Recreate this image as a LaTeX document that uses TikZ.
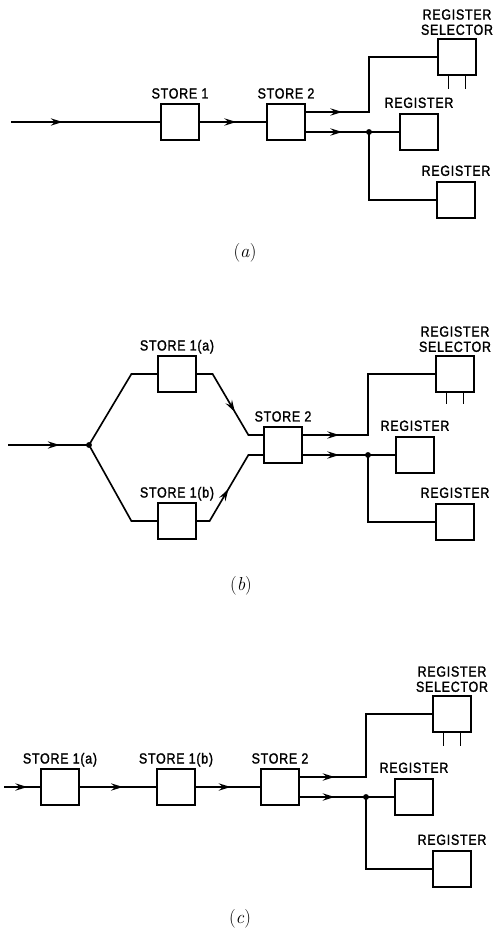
\documentclass[tikz,border=0pt]{standalone}
\usepackage{fontspec}
\newfontfamily\lblfont[FakeStretch=0.85,LetterSpace=5,FakeBold=1.5]{Liberation Sans}
\usetikzlibrary{positioning,calc,arrows.meta,decorations.markings}

\begin{document}
\begin{tikzpicture}[x=0.3mm, y=-0.3mm,
      box/.style={draw, line width=1.6pt, minimum width=1.12cm,
                  minimum height=1.1cm, inner sep=0pt},
      wire/.style={line width=1.4pt},
      flow/.style={wire, decoration={markings, mark=at position #1 with
                  {\arrow{Stealth[length=3.6mm,width=2.2mm,inset=1.3mm]}}},
                  postaction={decorate}},
      dot/.style={circle, fill, inner sep=0pt, minimum size=5pt},
      lbl/.style={font=\lblfont\fontsize{12.5}{13}\selectfont, inner sep=0pt,
                  text depth=0pt},
      sellbl/.style={lbl, align=center},
      figcap/.style={font=\fontsize{16}{18}\selectfont}]
    \useasboundingbox (0,0) rectangle (496,934);
    % (a) one store after another
    \coordinate (in1) at (11,122);
    \node[box] (s1) at (180,122) {};
    \node[box] (s2) at (286,122) {};
    \node[dot] (j1) at (369,132) {};
    \node[box] (r1) at (419,132) {};
    \node[box] (q1) at (456,200) {};
    \node[box] (sel1) at (457,57) {};
    \node[lbl, above=1.2mm of s1] {STORE 1};
    \node[lbl, above=1.2mm of s2] {STORE 2};
    \node[lbl, above=1.4mm of r1] {REGISTER};
    \node[lbl, above=1.4mm of q1] {REGISTER};
    \node[sellbl, above=0.8mm of sel1] {REGISTER\\SELECTOR};
    \draw[flow=1.55cm] (in1) -- (s1);
    \draw[flow=1.1cm] (s1) -- (s2);
    \draw[flow=1.1cm] ([yshift=3mm]s2.east) -| (j1 |- sel1) -- (sel1);
    \draw[flow=1.1cm] ([yshift=-3mm]s2.east) -- (j1.center) -- (r1);
    \draw[wire] (j1.center) |- (q1);
    \foreach \dx in {-2.6mm,2.6mm}
      \draw[wire] ([xshift=\dx]sel1.south) -- ++(0,13);
    \node[figcap] (c1) at (245,253) {(\textit{a})};
    % (b) two first stores side by side
    \coordinate (in2) at (8,445);
    \node[dot] (j2) at (89,445) {};
    \node[box] (s1a) at (177,374) {};
    \node[box] (s1b) at (177,521) {};
    \node[box] (s22) at (283,445) {};
    \node[dot] (k2) at (368,455) {};
    \node[box] (r2) at (415,455) {};
    \node[box] (q2) at (455,522) {};
    \node[box] (sel2) at (455,374) {};
    \node[lbl, above=1.2mm of s1a] {STORE 1(a)};
    \node[lbl, above=1.2mm of s1b] {STORE 1(b)};
    \node[lbl, above=1.2mm of s22] {STORE 2};
    \node[lbl, above=1.4mm of r2] {REGISTER};
    \node[lbl, above=1.4mm of q2] {REGISTER};
    \node[sellbl, above=0.8mm of sel2] {REGISTER\\SELECTOR};
    \draw[flow=1.55cm] (in2) -- (j2.center);
    \draw[wire] (j2.center) -- ($(s1a.west)+(-26,0)$) -- (s1a);
    \draw[wire] (j2.center) -- ($(s1b.west)+(-26,0)$) -- (s1b);
    \draw[flow=1.8cm] (s1a.east) -- ++(16,0)
      -- ($([yshift=3mm]s22.west)+(-15,0)$) -- ([yshift=3mm]s22.west);
    \draw[flow=1.5cm] (s1b.east) -- ++(13,0)
      -- ($([yshift=-3mm]s22.west)+(-15,0)$) -- ([yshift=-3mm]s22.west);
    \draw[flow=1.1cm] ([yshift=3mm]s22.east) -| (k2 |- sel2) -- (sel2);
    \draw[flow=1.1cm] ([yshift=-3mm]s22.east) -- (k2.center) -- (r2);
    \draw[wire] (k2.center) |- (q2);
    \foreach \dx in {-2.6mm,2.6mm}
      \draw[wire] ([xshift=\dx]sel2.south) -- ++(0,11);
    \node[figcap] (c2) at (241,586) {(\textit{b})};
    % (c) all stores in a row
    \coordinate (in3) at (4,787);
    \node[box] (s3a) at (60,787) {};
    \node[box] (s3b) at (176,787) {};
    \node[box] (s23) at (280,787) {};
    \node[dot] (k3) at (366,797) {};
    \node[box] (r3) at (414,797) {};
    \node[box] (q3) at (452,869) {};
    \node[box] (sel3) at (452,714) {};
    \node[lbl, above=1.2mm of s3a] {STORE 1(a)};
    \node[lbl, above=1.2mm of s3b] {STORE 1(b)};
    \node[lbl, above=1.2mm of s23] {STORE 2};
    \node[lbl, above=1.4mm of r3] {REGISTER};
    \node[lbl, above=1.4mm of q3] {REGISTER};
    \node[sellbl, above=0.8mm of sel3] {REGISTER\\SELECTOR};
    \draw[flow=0.7cm] (in3) -- (s3a);
    \draw[flow=1.3cm] (s3a) -- (s3b);
    \draw[flow=1.05cm] (s3b) -- (s23);
    \draw[flow=1.05cm] ([yshift=3mm]s23.east) -| (k3 |- sel3) -- (sel3);
    \draw[flow=1.05cm] ([yshift=-3mm]s23.east) -- (k3.center) -- (r3);
    \draw[wire] (k3.center) |- (q3);
    \foreach \dx in {-2.6mm,2.6mm}
      \draw[wire] ([xshift=\dx]sel3.south) -- ++(0,13);
    \node[figcap] (c3) at (240,919) {(\textit{c})};
  \end{tikzpicture}
\end{document}
